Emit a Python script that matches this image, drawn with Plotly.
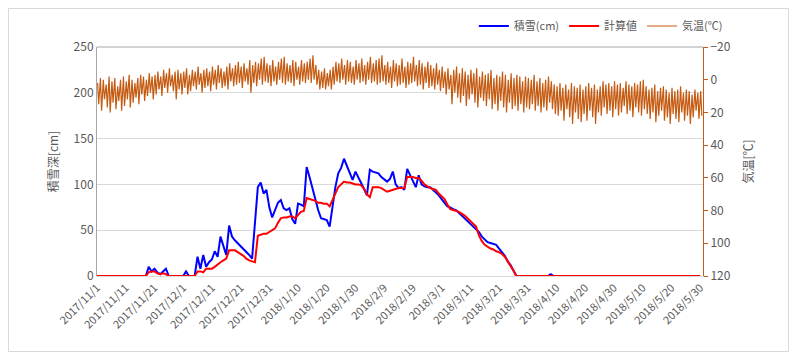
import pandas as pd
import plotly.graph_objects as go

start_date = "2017-11-01"
n_days = 211

snow_obs = [
    0, 0, 0, 0, 0, 0, 0, 0, 0, 0, 0, 0, 0, 0, 0, 0, 0, 0, 10, 5,
    8, 4, 2, 5, 8, 0, 0, 0, 0, 0, 0, 5, 0, 0, 0, 21, 8, 23, 10, 15,
    18, 27, 21, 43, 32, 23, 55, 43, 39, 36, 33, 30, 26, 23, 19, 60, 97, 102, 90, 94,
    75, 64, 72, 80, 83, 74, 72, 74, 62, 57, 79, 78, 76, 119, 108, 95, 83, 72, 63, 62,
    61, 54, 75, 97, 112, 118, 128, 120, 114, 105, 114, 108, 101, 95, 88, 116, 114, 113, 112, 108,
    105, 103, 106, 114, 100, 96, 97, 94, 117, 110, 104, 97, 110, 100, 98, 97, 97, 94, 92, 88,
    84, 80, 76, 75, 73, 72, 69, 66, 64, 61, 58, 55, 52, 48, 43, 40, 37, 36, 35, 34,
    30, 26, 22, 16, 12, 6, 0, 0, 0, 0, 0, 0, 0, 0, 0, 0, 0, 0, 2, 0,
    0, 0, 0, 0, 0, 0, 0, 0, 0, 0, 0, 0, 0, 0, 0, 0, 0, 0, 0, 0,
    0, 0, 0, 0, 0, 0, 0, 0, 0, 0, 0, 0, 0, 0, 0, 0, 0, 0, 0, 0,
    0, 0, 0, 0, 0, 0, 0, 0, 0, 0, 0,
]

snow_calc = [
    0, 0, 0, 0, 0, 0, 0, 0, 0, 0, 0, 0, 0, 0, 0, 0, 0, 0, 4, 5,
    5, 3, 2, 3, 2, 0, 0, 0, 0, 0, 0, 0, 0, 0, 0, 5, 5, 4, 8, 8,
    8, 10, 13, 15, 17, 19, 28, 28, 28, 26, 24, 22, 19, 17, 16, 15, 44, 45, 46, 46,
    48, 50, 52, 58, 63, 64, 64, 65, 65, 63, 66, 70, 71, 85, 84, 83, 82, 80, 80, 79,
    79, 76, 83, 90, 97, 100, 103, 102, 102, 101, 100, 100, 99, 95, 89, 86, 97, 97, 97, 96,
    94, 92, 93, 94, 95, 96, 96, 96, 108, 108, 108, 107, 107, 104, 100, 98, 96, 95, 94, 90,
    87, 84, 78, 73, 72, 71, 70, 68, 66, 63, 60, 57, 54, 44, 38, 34, 32, 30, 29, 27,
    26, 24, 21, 16, 12, 6, 0, 0, 0, 0, 0, 0, 0, 0, 0, 0, 0, 0, 0, 0,
    0, 0, 0, 0, 0, 0, 0, 0, 0, 0, 0, 0, 0, 0, 0, 0, 0, 0, 0, 0,
    0, 0, 0, 0, 0, 0, 0, 0, 0, 0, 0, 0, 0, 0, 0, 0, 0, 0, 0, 0,
    0, 0, 0, 0, 0, 0, 0, 0, 0, 0, 0,
]

temp_min = [
    2, -1, 0, 3, -2, 1, -1, 4, 0, -2,
    1, -3, 0, 2, -1, -3, -2, 0, -4, -2,
    -3, -5, -2, -6, -4, -7, -3, -5, -6, -4,
    -5, -7, -3, -6, -5, -8, -4, -6, -7, -5,
    -8, -6, -9, -7, -5, -8, -10, -7, -9, -11,
    -8, -10, -7, -12, -9, -11, -10, -13, -14, -10,
    -9, -12, -8, -11, -13, -14, -10, -9, -12, -11,
    -8, -12, -10, -11, -13, -15, -9, -6, -5, -7,
    -4, -6, -8, -11, -10, -13, -9, -12, -11, -8,
    -12, -10, -13, -9, -11, -14, -10, -12, -13, -15,
    -9, -11, -8, -12, -10, -9, -13, -8, -11, -10,
    -14, -9, -12, -10, -8, -11, -9, -7, -10, -6,
    -8, -5, -7, -3, -6, -8, -4, -7, -5, -3,
    -6, -4, -7, -2, -5, -3, -4, -6, -1, -3,
    -2, -5, -3, 0, -4, -1, -3, -2, 1, -2,
    -1, 0, -3, 1, -1, 2, 0, -2, 1, 3,
    4, 2, 5, 3, 6, 2, 4, 5, 3, 6,
    4, 2, 5, 3, 6, 4, 1, 3, 2, 4,
    1, 3, 2, 5, 1, 3, 4, 2, 3, 1,
    0, 4, 6, 5, 3, 7, 5, 4, 6, 8,
    5, 7, 6, 4, 8, 6, 7, 9, 6, 8,
    7,
]

temp_max = [
    15, 19, 12, 17, 20, 14, 18, 13, 19, 16,
    12, 17, 14, 11, 15, 9, 13, 10, 8, 12,
    9, 6, 10, 5, 8, 4, 7, 12, 6, 9,
    5, 9, 7, 4, 6, 3, 8, 5, 4, 7,
    3, 6, 2, 5, 4, 6, 1, 4, 3, 2,
    5, 1, 3, 8, 2, 4, 0, 3, 1, 2,
    4, 1, 3, 0, 2, 3, 1, 2, 4, 0,
    3, 1, 2, 0, 2, 0, 3, 6, 5, 6,
    4, 6, 3, 1, 2, 0, 3, 1, 2, 3,
    0, 2, 1, 3, 0, 2, 1, 3, 2, 1,
    3, 2, 5, 1, 4, 3, 2, 5, 3, 2,
    1, 4, 3, 6, 2, 5, 4, 6, 3, 7,
    5, 9, 6, 15, 8, 11, 14, 10, 16, 12,
    9, 14, 17, 11, 13, 16, 12, 18, 15, 19,
    13, 17, 20, 14, 18, 16, 19, 15, 20, 17,
    18, 15, 19, 16, 20, 17, 19, 14, 18, 21,
    22, 19, 25, 18, 23, 27, 20, 24, 26, 21,
    25, 19, 23, 27, 20, 22, 17, 21, 19, 23,
    18, 22, 20, 16, 21, 19, 23, 17, 20, 22,
    18, 21, 24, 20, 26, 22, 19, 25, 23, 27,
    21, 24, 26, 20, 25, 22, 27, 23, 19, 24,
    22,
]

legend_names = ["積雪(cm)", "計算値", "気温(℃)"]
left_title = "積雪深[cm]"
right_title = "気温[℃]"

days = pd.date_range(start_date, periods=n_days, freq="D")

# temperature: daily low in early morning, daily high in afternoon
t_x, t_y = [], []
for d, lo, hi in zip(days, temp_min, temp_max):
    t_x.append(d + pd.Timedelta(hours=5))
    t_y.append(lo)
    t_x.append(d + pd.Timedelta(hours=14))
    t_y.append(hi)

FONT = "Noto Sans CJK JP"
GRAY = "#595959"
ORANGE = "#C55A11"

fig = go.Figure()
fig.add_trace(go.Scatter(x=days, y=snow_obs, mode="lines", name=legend_names[0],
                         line=dict(color="#0000FF", width=2)))
fig.add_trace(go.Scatter(x=days, y=snow_calc, mode="lines", name=legend_names[1],
                         line=dict(color="#FF0000", width=2)))
fig.add_trace(go.Scatter(x=t_x, y=t_y, mode="lines", name=legend_names[2], yaxis="y2",
                         line=dict(color=ORANGE, width=1.2)))

# page body adds an 8px offset, so the figure is 792x352 and margins are shifted
fig.update_layout(
    width=792, height=352,
    margin=dict(l=89, r=97, t=39, b=84, autoexpand=False),
    paper_bgcolor="white", plot_bgcolor="white",
    font=dict(family=FONT, size=12, color=GRAY),
    showlegend=True,
    legend=dict(orientation="h", x=1.041, xanchor="right", y=1.155, yanchor="top",
                font=dict(size=11, color=GRAY), itemwidth=30, tracegroupgap=0),
    xaxis=dict(
        type="date", range=["2017-11-01", "2018-05-31"], automargin=False,
        tick0="2017-11-01", dtick=10 * 86400000, tickformat="%Y/%-m/%-d",
        tickangle=-45, tickfont=dict(size=11, color=GRAY),
        showgrid=False, showline=True, linecolor="#D9D9D9", linewidth=1,
        ticks="", zeroline=False,
    ),
    yaxis=dict(
        range=[0, 250], dtick=50, showgrid=True, gridcolor="#D9D9D9", automargin=False,
        showline=True, linecolor="#A6A6A6", linewidth=1, zeroline=False,
        ticks="", tickfont=dict(size=12, color=GRAY),
        title=dict(text=left_title, font=dict(size=12, color=GRAY), standoff=12),
    ),
    yaxis2=dict(
        overlaying="y", side="right", range=[120, -20], dtick=20, automargin=False,
        showgrid=False, showline=True, linecolor=ORANGE, linewidth=1,
        ticks="outside", ticklen=4, tickcolor=ORANGE, zeroline=False,
        tickfont=dict(size=12, color=GRAY),
        title=dict(text=right_title, font=dict(size=12, color=GRAY), standoff=14),
    ),
    yaxis3=dict(
        overlaying="y", side="right", range=[120, -20], dtick=20, automargin=False,
        showgrid=False, showline=False, showticklabels=False,
        ticks="inside", ticklen=4, tickcolor=ORANGE, zeroline=False,
    ),
)

# top border line of the plot area and the outer chart frame
fig.add_shape(type="line", xref="paper", yref="paper", x0=0, x1=1, y0=1, y1=1,
              line=dict(color="#A6A6A6", width=1))
fig.add_shape(type="rect", xref="paper", yref="paper",
              x0=-88.5 / 606, x1=(788.5 - 97) / 606, y0=-(351.5 - 276) / 229, y1=(276 - 8.5) / 229,
              line=dict(color="#D9D9D9", width=1), fillcolor="rgba(0,0,0,0)", layer="below")

fig.write_html("out.html")
